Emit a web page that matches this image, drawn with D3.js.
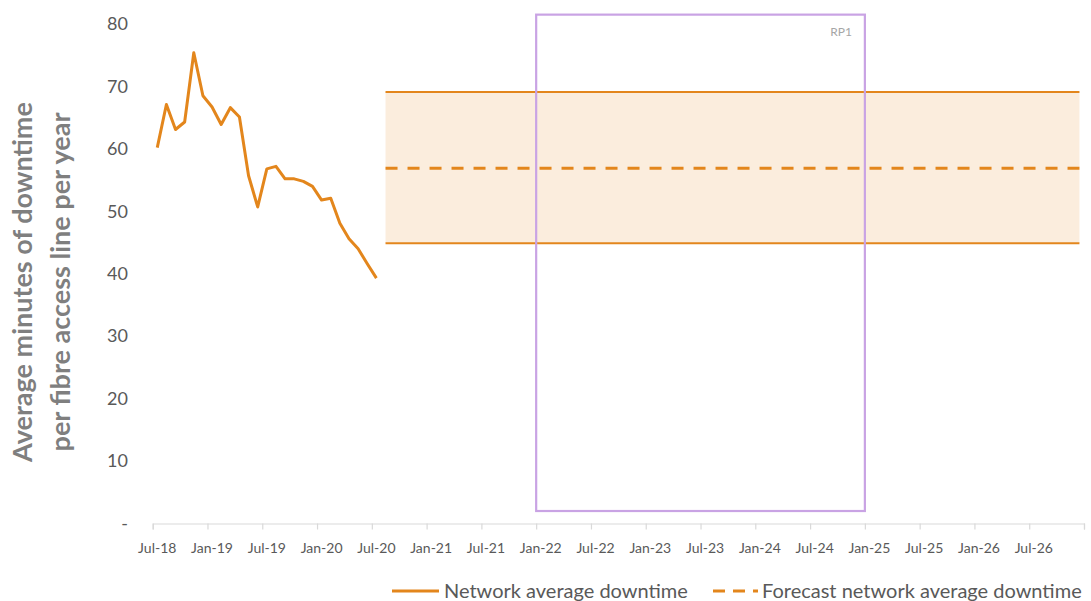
<!DOCTYPE html>
<html>
<head>
<meta charset="utf-8">
<script src="https://cdn.jsdelivr.net/npm/d3@7/dist/d3.min.js"></script>
<style>
  html, body { margin: 0; padding: 0; background: #fff; }
  svg { display: block; }
  text { font-family: Lato, "Open Sans", sans-serif; }
</style>
</head>
<body>
<div id="chart"></div>
<script>
// Monthly network average downtime (minutes per fibre access line per year)
const months = [
  "2018-07","2018-08","2018-09","2018-10","2018-11","2018-12",
  "2019-01","2019-02","2019-03","2019-04","2019-05","2019-06",
  "2019-07","2019-08","2019-09","2019-10","2019-11","2019-12",
  "2020-01","2020-02","2020-03","2020-04","2020-05","2020-06","2020-07"
];
const downtime = [
  60.2, 67.1, 63.1, 64.3, 75.4, 68.5,
  66.7, 63.9, 66.6, 65.1, 55.7, 50.7,
  56.8, 57.2, 55.2, 55.2, 54.8, 54.0,
  51.8, 52.1, 48.1, 45.6, 44.0, 41.6, 39.3
];

// Forecast range and central forecast
const forecastPeriod = ["2020-08", "2026-12"];
const forecastLow = 44.9;
const forecastMid = 56.9;
const forecastHigh = 69.1;

// Regulatory period RP1 (month boundaries) and its vertical extent
const rpLabel = "RP1";
const rpPeriod = ["2022-01", "2025-01"];
const rpRange = [2, 81.5];

// Axes
const axisStart = "2018-07";
const axisEnd = "2027-01";
const xTickLabels = ["Jul-18","Jan-19","Jul-19","Jan-20","Jul-20","Jan-21","Jul-21","Jan-22",
  "Jul-22","Jan-23","Jul-23","Jan-24","Jul-24","Jan-25","Jul-25","Jan-26","Jul-26"];
const yTicks = [0, 10, 20, 30, 40, 50, 60, 70, 80];
const yTitle = ["Average minutes of downtime", "per fibre access line per year"];
const legendLabels = ["Network average downtime", "Forecast network average downtime"];

const W = 1091, H = 601;
const orange = "#e3861c";
const bandFill = "#fbeddd";
const purple = "#c9a3e4";
const gridGrey = "#d9d9d9";
const labelGrey = "#595959";

// month string -> month index from axis start
const mIdx = s => {
  const [y, m] = s.split("-").map(Number);
  const [y0, m0] = axisStart.split("-").map(Number);
  return (y - y0) * 12 + (m - m0);
};

const x = d3.scaleLinear().domain([0, mIdx(axisEnd)]).range([152.7, 1084]);
const y = d3.scaleLinear().domain([0, 80]).range([523.5, 24]);
const mid = s => x(mIdx(s) + 0.5);   // centre of a month

const svg = d3.select("#chart").append("svg").attr("width", W).attr("height", H);

// Forecast band
const fx0 = mid(forecastPeriod[0]), fx1 = mid(forecastPeriod[1]);
svg.append("rect")
  .attr("x", fx0).attr("y", y(forecastHigh))
  .attr("width", fx1 - fx0).attr("height", y(forecastLow) - y(forecastHigh))
  .attr("fill", bandFill);
[forecastHigh, forecastLow].forEach(v => {
  svg.append("line")
    .attr("x1", fx0).attr("x2", fx1).attr("y1", y(v)).attr("y2", y(v))
    .attr("stroke", orange).attr("stroke-width", 2);
});
svg.append("line")
  .attr("x1", fx0).attr("x2", fx1).attr("y1", y(forecastMid)).attr("y2", y(forecastMid))
  .attr("stroke", orange).attr("stroke-width", 3).attr("stroke-dasharray", "12,10");

// RP1 box
svg.append("rect")
  .attr("x", x(mIdx(rpPeriod[0]))).attr("y", y(rpRange[1]))
  .attr("width", x(mIdx(rpPeriod[1])) - x(mIdx(rpPeriod[0])))
  .attr("height", y(rpRange[0]) - y(rpRange[1]))
  .attr("fill", "none").attr("stroke", purple).attr("stroke-width", 2.2);
svg.append("text")
  .attr("x", x(mIdx(rpPeriod[1])) - 13).attr("y", y(rpRange[1]) + 21)
  .attr("text-anchor", "end").attr("font-size", 12).attr("fill", "#a6a6a6")
  .text(rpLabel);

// Actual downtime line
const line = d3.line().x(d => mid(d[0])).y(d => y(d[1]));
svg.append("path")
  .datum(months.map((m, i) => [m, downtime[i]]))
  .attr("d", line).attr("fill", "none")
  .attr("stroke", orange).attr("stroke-width", 3).attr("stroke-linejoin", "round");

// X axis
const tickIdx = d3.range(0, mIdx(axisEnd) + 1, 6);
const xAxis = d3.axisBottom(x).tickValues(tickIdx).tickSize(6).tickFormat("");
const gx = svg.append("g").attr("transform", `translate(0,${y(0)})`).call(xAxis);
gx.select(".domain").attr("stroke", gridGrey).attr("stroke-width", 1.2);
gx.selectAll(".tick line").attr("stroke", gridGrey).attr("stroke-width", 1.2);
svg.append("g").selectAll("text").data(xTickLabels).join("text")
  .attr("x", (d, i) => x(i * 6 + 0.5)).attr("y", y(0) + 29)
  .attr("text-anchor", "middle").attr("font-size", 14).attr("fill", labelGrey)
  .text(d => d);

// Y axis labels (no axis line)
svg.append("g").selectAll("text").data(yTicks).join("text")
  .attr("x", 128).attr("y", d => y(d)).attr("dy", "0.35em")
  .attr("text-anchor", "end").attr("font-size", 18).attr("fill", labelGrey)
  .text(d => d === 0 ? "-" : d);

// Y axis title
const gt = svg.append("g").attr("transform", `translate(0,${282}) rotate(-90)`);
gt.selectAll("text").data(yTitle).join("text")
  .attr("x", 0).attr("y", (d, i) => 31.5 + i * 38)
  .attr("text-anchor", "middle").attr("font-size", 27).attr("font-weight", "bold")
  .attr("fill", "#7f7f7f").text(d => d);

// Legend
const ly = 591;
svg.append("line").attr("x1", 392).attr("x2", 439).attr("y1", ly).attr("y2", ly)
  .attr("stroke", orange).attr("stroke-width", 3);
svg.append("text").attr("x", 444).attr("y", ly).attr("dy", "0.35em")
  .attr("font-size", 20).attr("fill", labelGrey).text(legendLabels[0]);
svg.append("line").attr("x1", 713).attr("x2", 758).attr("y1", ly).attr("y2", ly)
  .attr("stroke", orange).attr("stroke-width", 3).attr("stroke-dasharray", "12,8");
svg.append("text").attr("x", 762).attr("y", ly).attr("dy", "0.35em")
  .attr("font-size", 20).attr("fill", labelGrey).text(legendLabels[1]);
</script>
</body>
</html>
